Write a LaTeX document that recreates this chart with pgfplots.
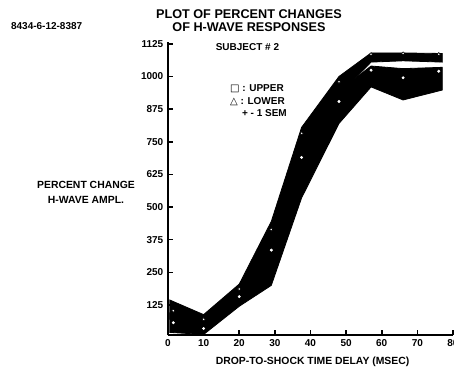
\documentclass[border=0pt]{standalone}
\usepackage{fontspec}
\setmainfont{Liberation Sans}
\newfontfamily\sym{DejaVu Sans}
\usepackage{pgfplots}
\pgfplotsset{compat=1.18}

\begin{document}
\begin{tikzpicture}[x=1pt,y=1pt]
\begin{axis}[
  at={(0pt,0pt)}, anchor=south west,
  width=213.75pt, height=219.75pt, scale only axis,
  xmin=0, xmax=80, ymin=10, ymax=1132,
  axis x line=bottom, axis y line=left,
  axis line style={line width=1.6pt, -},
  xtick={0,10,...,80}, ytick={125,250,375,500,625,750,875,1000,1125},
  tick align=inside, major tick length=4pt,
  tick style={line width=1.2pt, black},
  ticklabel style={font=\bfseries\fontsize{7.5}{8}\selectfont},
  /pgf/number format/assume math mode=true,
  /pgf/number format/1000 sep={},
  clip=false,
]
% upper response band (mean +/- 1 SEM)
\addplot[fill=black, draw=black, line width=0.6pt] coordinates {
 (0.5,144) (10,88) (20,205) (29,445) (37.5,805) (48,1000) (57,1090) (66,1090) (77,1088)
 (77,1055) (66,1060) (57,1055) (48,930) (37.5,720) (29,370) (20,160) (10,50) (0.5,70)} -- cycle;
% lower response band (mean +/- 1 SEM)
\addplot[fill=black, draw=black, line width=0.6pt] coordinates {
 (0.5,95) (10,55) (20,180) (29,390) (37.5,740) (48,945) (57,1040) (66,1030) (77,1035)
 (77,948) (66,910) (57,960) (48,820) (37.5,535) (29,200) (20,120) (10,12) (0.5,20)} -- cycle;
% upper means
\addplot[only marks, mark=*, mark size=1.2pt, mark options={fill=white, draw=black, line width=0.5pt}] coordinates {
 (1.5,103) (10,70) (20,186) (29,414) (37.5,782) (48,980) (57,1085) (66,1088) (76,1085)};
% lower means
\addplot[only marks, mark=*, mark size=0.9pt, mark options={fill=white, draw=white}] coordinates {
 (1.5,57) (10,35) (20,157) (29,335) (37.5,690) (48,904) (57,1024) (66,995) (76,1020)};
\end{axis}
\node[font=\bfseries\fontsize{7.5}{8}\selectfont] at (-91,232) {8434-6-12-8387};
\node[align=center, font=\bfseries\fontsize{9.5}{9.75}\selectfont] at (60.75,236) {PLOT OF PERCENT CHANGES\\OF H-WAVE RESPONSES};
\node[font=\bfseries\fontsize{7.5}{8}\selectfont] at (59.6,216) {SUBJECT \# 2};
\node[anchor=west, font=\bfseries\fontsize{7.5}{8}\selectfont] at (43,184.5) {{\sym □} : UPPER};
\node[anchor=west, font=\bfseries\fontsize{7.5}{8}\selectfont] at (43,174.75) {{\sym △} : LOWER};
\node[anchor=west, font=\bfseries\fontsize{7.5}{8}\selectfont] at (52,166.5) {+ - 1 SEM};
\node[align=center, font=\bfseries\fontsize{7.8}{11}\selectfont] at (-61.5,106.9) {PERCENT CHANGE\\H-WAVE AMPL.};
\node[font=\bfseries\fontsize{7.8}{8}\selectfont] at (108.4,-20.25) {DROP-TO-SHOCK TIME DELAY (MSEC)};
\pgfresetboundingbox
\path[use as bounding box] (-126,-24.75) rectangle (214.5,251.25);
\end{tikzpicture}
\end{document}
